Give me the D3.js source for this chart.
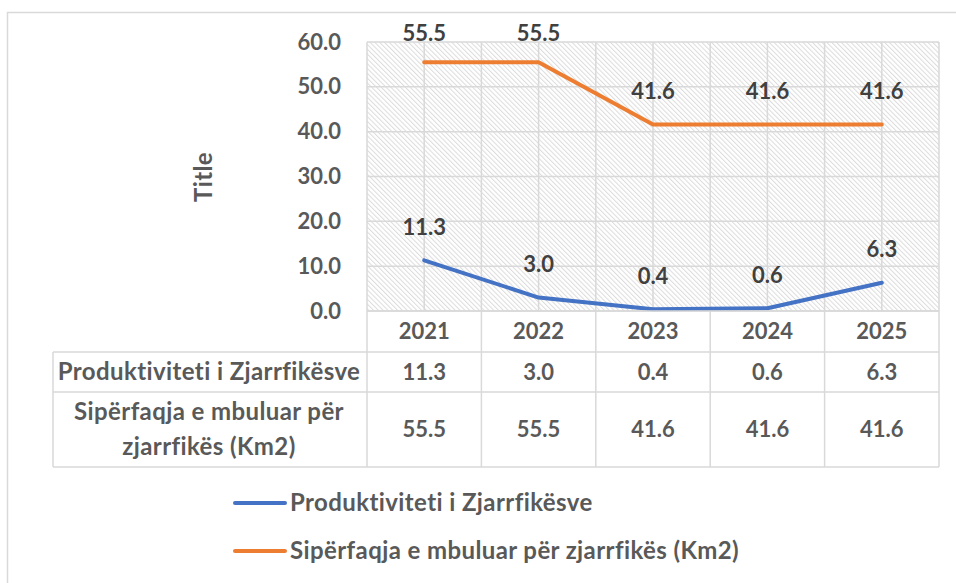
<html>
  <head>
    <script src="https://cdn.jsdelivr.net/npm/d3@7"></script>
    <style>
      body { margin: 0; background: #fff; }
      text { font-family: Lato, "Open Sans", sans-serif; font-weight: bold; }
      .txt { letter-spacing: 0.4px; }
    </style>
  </head>
  <body>
    <script>
      // chart data
      var years = ["2021", "2022", "2023", "2024", "2025"];
      var seriesNames = ["Produktiviteti i Zjarrfikësve", "Sipërfaqja e mbuluar për zjarrfikës (Km2)"];
      var productivity = [11.3, 3.0, 0.4, 0.6, 6.3];
      var area = [55.5, 55.5, 41.6, 41.6, 41.6];
      var yTicks = [0, 10, 20, 30, 40, 50, 60];
      var colors = ["#4472C4", "#ED7D31"];
      var series = [productivity, area];

      var width = 956, height = 583;
      var pLeft = 367, pRight = 939, pTop = 42, pBottom = 311;
      var numSize = "22px", txtSize = "24px";

      var svg = d3.select("body").append("svg")
                  .attr("width", width).attr("height", height);

      // hatch pattern for plot area
      var pat = svg.append("defs").append("pattern")
                   .attr("id", "hatch")
                   .attr("patternUnits", "userSpaceOnUse")
                   .attr("width", 3.4).attr("height", 3.4)
                   .attr("patternTransform", "rotate(-45)");
      pat.append("rect").attr("width", 3.4).attr("height", 3.4).attr("fill", "#fff");
      pat.append("line").attr("x1", 0.5).attr("y1", 0).attr("x2", 0.5).attr("y2", 3.4)
         .attr("stroke", "#dcdcdc").attr("stroke-width", 1);

      // chart area border
      svg.append("rect").attr("x", 7.5).attr("y", 12.5)
         .attr("width", 960).attr("height", 600)
         .attr("fill", "none").attr("stroke", "#d9d9d9").attr("stroke-width", 1.5);

      var x = d3.scaleBand().domain(years).range([pLeft, pRight]);
      var y = d3.scaleLinear().domain([0, 60]).range([pBottom, pTop]);
      var cx = function(d) { return x(d) + x.bandwidth() / 2; };

      svg.append("rect").attr("x", pLeft).attr("y", pTop)
         .attr("width", pRight - pLeft).attr("height", pBottom - pTop)
         .attr("fill", "url(#hatch)");

      // gridlines
      var grid = svg.append("g").attr("stroke", "#d9d9d9").attr("stroke-width", 1.5);
      grid.selectAll(".h").data(yTicks).enter().append("line")
          .attr("x1", pLeft).attr("x2", pRight)
          .attr("y1", function(d) { return y(d); }).attr("y2", function(d) { return y(d); });
      var vlines = years.map(function(d) { return x(d); }).concat([pRight])
                        .concat(years.map(cx));
      grid.selectAll(".v").data(vlines).enter().append("line")
          .attr("x1", function(d) { return d; }).attr("x2", function(d) { return d; })
          .attr("y1", pTop).attr("y2", pBottom);

      // y axis labels
      var yAxis = svg.append("g").attr("transform", "translate(" + (pLeft - 26) + ",0)")
                     .call(d3.axisLeft(y).tickValues(yTicks).tickSize(0).tickPadding(0)
                           .tickFormat(d3.format(".1f")));
      yAxis.select(".domain").remove();
      yAxis.selectAll("text").attr("fill", "#595959").attr("font-size", numSize)
           .attr("font-family", "Lato").attr("font-weight", "bold");

      svg.append("text").attr("class", "txt").attr("transform", "translate(212,177) rotate(-90)")
         .attr("text-anchor", "middle").attr("fill", "#595959")
         .attr("font-size", txtSize).text("Title");

      // lines
      var line = d3.line().x(function(d, i) { return cx(years[i]); }).y(function(d) { return y(d); });
      series.forEach(function(s, k) {
        svg.append("path").datum(s).attr("d", line)
           .attr("fill", "none").attr("stroke", colors[k])
           .attr("stroke-width", 4).attr("stroke-linejoin", "round").attr("stroke-linecap", "round");
        svg.selectAll(".lbl" + k).data(s).enter().append("text")
           .attr("x", function(d, i) { return cx(years[i]); })
           .attr("y", function(d) { return Math.max(33, y(d) - 33); })
           .attr("dy", "0.35em").attr("text-anchor", "middle")
           .attr("fill", "#404040").attr("font-size", numSize)
           .text(function(d) { return d3.format(".1f")(d); });
      });

      // data table
      var rowY = [311, 352, 392, 467];
      var tbl = svg.append("g").attr("stroke", "#d9d9d9").attr("stroke-width", 1.5);
      tbl.append("line").attr("x1", pLeft).attr("x2", pRight).attr("y1", rowY[0]).attr("y2", rowY[0]);
      [1, 2, 3].forEach(function(r) {
        tbl.append("line").attr("x1", 53).attr("x2", pRight).attr("y1", rowY[r]).attr("y2", rowY[r]);
      });
      tbl.append("line").attr("x1", 53).attr("x2", 53).attr("y1", rowY[1]).attr("y2", rowY[3]);
      tbl.selectAll(".tv").data(years.map(function(d) { return x(d); }).concat([pRight])).enter()
         .append("line").attr("x1", function(d) { return d; }).attr("x2", function(d) { return d; })
         .attr("y1", rowY[0]).attr("y2", rowY[3]);

      svg.selectAll(".yr").data(years).enter().append("text")
         .attr("x", cx).attr("y", (rowY[0] + rowY[1]) / 2).attr("dy", "0.35em")
         .attr("text-anchor", "middle").attr("fill", "#595959").attr("font-size", numSize)
         .text(function(d) { return d; });

      series.forEach(function(s, k) {
        var ym = (rowY[k + 1] + rowY[k + 2]) / 2;
        svg.selectAll(".tc" + k).data(s).enter().append("text")
           .attr("x", function(d, i) { return cx(years[i]); }).attr("y", ym).attr("dy", "0.35em")
           .attr("text-anchor", "middle").attr("fill", "#595959").attr("font-size", numSize)
           .text(function(d) { return d3.format(".1f")(d); });
      });
      var rowLabels = [[seriesNames[0], 372], ["Sipërfaqja e mbuluar për", 412], ["zjarrfikës (Km2)", 447]];
      svg.selectAll(".rl").data(rowLabels).enter().append("text").attr("class", "txt")
         .attr("x", 209).attr("y", function(d) { return d[1]; }).attr("dy", "0.35em")
         .attr("text-anchor", "middle").attr("fill", "#595959").attr("font-size", txtSize)
         .text(function(d) { return d[0]; });

      // legend
      var leg = svg.selectAll(".leg").data(seriesNames).enter().append("g")
                   .attr("transform", function(d, i) { return "translate(235," + (503 + i * 48) + ")"; });
      leg.append("line").attr("x1", 0).attr("x2", 50)
         .attr("stroke", function(d, i) { return colors[i]; })
         .attr("stroke-width", 4).attr("stroke-linecap", "round");
      leg.append("text").attr("class", "txt").attr("x", 55).attr("dy", "0.35em")
         .attr("fill", "#595959").attr("font-size", txtSize)
         .text(function(d) { return d; });
    </script>
  </body>
</html>
